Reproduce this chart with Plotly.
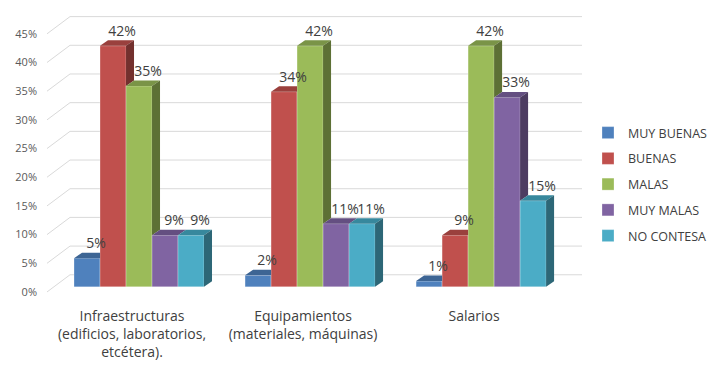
import plotly.graph_objects as go

# ---------------- data ----------------
categories = ["Infraestructuras<br>(edificios, laboratorios,<br>etcétera).",
              "Equipamientos<br>(materiales, máquinas)",
              "Salarios"]
series_names = ["MUY BUENAS", "BUENAS", "MALAS", "MUY MALAS", "NO CONTESA"]
muy_buenas = [5, 2, 1]
buenas = [42, 34, 9]
malas = [35, 42, 42]
muy_malas = [9, 11, 33]
no_contesa = [9, 11, 15]
y_ticks = [0, 5, 10, 15, 20, 25, 30, 35, 40, 45]

series_values = [muy_buenas, buenas, malas, muy_malas, no_contesa]

# ---------------- style ----------------
front_colors = ["#4F81BD", "#C0504D", "#9BBB59", "#8064A2", "#4BACC6"]
top_colors = ["#3D6594", "#9A403D", "#7A9447", "#644F81", "#37889D"]
side_colors = ["#2F4E71", "#73302E", "#5D7035", "#4D3C61", "#2D6777"]
grid_color = "#D9D9D9"

OFF = 8  # page body margin
W, H = 728 - OFF, 368 - OFF
y0_px = 287.0 - OFF
px_per_pct = 258.0 / 45.0
c0_px = 139.0 - OFF
px_per_cat = 171.0
x_min, x_max = -0.538, 2.59
y_min, y_max = -1.6, 48.6

bar_w = 0.152
group_left = -0.38
dx = 8.0 / px_per_cat          # bar depth (x units)
dy = 5.5 / px_per_pct          # bar depth (y units)
wall_dx = 23.0 / px_per_cat
back_off = 2.1
front_off = -0.9
label_dx = 9.0 / px_per_cat
label_dy = 6.5 / px_per_pct

margin_l = c0_px + x_min * px_per_cat
margin_r = W - (c0_px + x_max * px_per_cat)
margin_t = y0_px - y_max * px_per_pct
margin_b = H - (y0_px - y_min * px_per_pct)

fig = go.Figure()

# front faces
for k, (name, vals) in enumerate(zip(series_names, series_values)):
    fig.add_trace(go.Bar(
        x=list(range(len(categories))), y=vals, name=name,
        width=bar_w, offset=group_left + k * bar_w,
        marker=dict(color=front_colors[k],
                    line=dict(width=0.8, color="rgba(255,255,255,0.35)")),
        legendgroup=name, hoverinfo="skip",
    ))

# top and side faces (computed from values)
for k in range(len(series_values)):
    tx, ty, sx, sy = [], [], [], []
    for i in range(len(categories)):
        h = series_values[k][i]
        xl = i + group_left + k * bar_w
        xr = xl + bar_w
        nxt = series_values[k + 1][i] if k + 1 < len(series_values) else None
        if nxt is not None and nxt > h:
            tx += [xl, xr, xr, xl + dx, xl, None]
            ty += [h, h, h + dy, h + dy, h, None]
        else:
            tx += [xl, xr, xr + dx, xl + dx, xl, None]
            ty += [h, h, h + dy, h + dy, h, None]
        lo = nxt if nxt is not None else 0
        if lo < h:
            sx += [xr, xr, xr + dx, xr + dx, xr, None]
            sy += [lo, h, h + dy, lo + dy, lo, None]
    fig.add_trace(go.Scatter(x=tx, y=ty, fill="toself", mode="lines",
                             fillcolor=top_colors[k], line=dict(width=0),
                             showlegend=False, hoverinfo="skip"))
    if sx:
        fig.add_trace(go.Scatter(x=sx, y=sy, fill="toself", mode="lines",
                                 fillcolor=side_colors[k], line=dict(width=0),
                                 showlegend=False, hoverinfo="skip"))

# data labels
lx, ly, lt = [], [], []
for k in range(len(series_values)):
    for i in range(len(categories)):
        h = series_values[k][i]
        lx.append(i + group_left + k * bar_w + bar_w / 2 + label_dx)
        ly.append(h + label_dy)
        lt.append(f"{h}%")
fig.add_trace(go.Scatter(x=lx, y=ly, text=lt, mode="text",
                         textposition="top center",
                         textfont=dict(family="Open Sans", size=14, color="#404040"),
                         showlegend=False, hoverinfo="skip", cliponaxis=False))

# back wall gridlines + left wall diagonals
shapes = []
for v in y_ticks:
    shapes.append(dict(type="line", xref="x", yref="y", layer="below",
                       x0=x_min + wall_dx, x1=x_max, y0=v + back_off, y1=v + back_off,
                       line=dict(color=grid_color, width=1)))
    shapes.append(dict(type="line", xref="x", yref="y", layer="below",
                       x0=x_min, x1=x_min + wall_dx, y0=v + front_off, y1=v + back_off,
                       line=dict(color=grid_color, width=1)))

fig.update_layout(
    width=W, height=H,
    margin=dict(l=margin_l, r=margin_r, t=margin_t, b=margin_b, pad=0),
    paper_bgcolor="white", plot_bgcolor="white",
    barmode="overlay",
    shapes=shapes,
    font=dict(family="Open Sans", color="#404040"),
    xaxis=dict(range=[x_min, x_max], tickvals=list(range(len(categories))),
               ticktext=categories, showgrid=False, zeroline=False, showline=False,
               ticks="", tickfont=dict(size=14, color="#404040"),
               ticklabelshift=-7, ticklabelstandoff=10, fixedrange=True),
    yaxis=dict(range=[y_min, y_max], tickvals=y_ticks,
               ticktext=[f"{v}%" for v in y_ticks], showgrid=False,
               zeroline=False, showline=False, ticks="",
               tickfont=dict(size=11, color="#595959"),
               ticklabelshift=5, ticklabelstandoff=9, fixedrange=True),
    legend=dict(xref="container", yref="container", x=(588 - OFF) / W,
                y=1 - (118 - OFF) / H,
                xanchor="left", yanchor="top", tracegroupgap=6.5,
                font=dict(size=12.5, color="#404040"), bgcolor="rgba(0,0,0,0)"),
    showlegend=True,
)

fig.write_html("out.html")
